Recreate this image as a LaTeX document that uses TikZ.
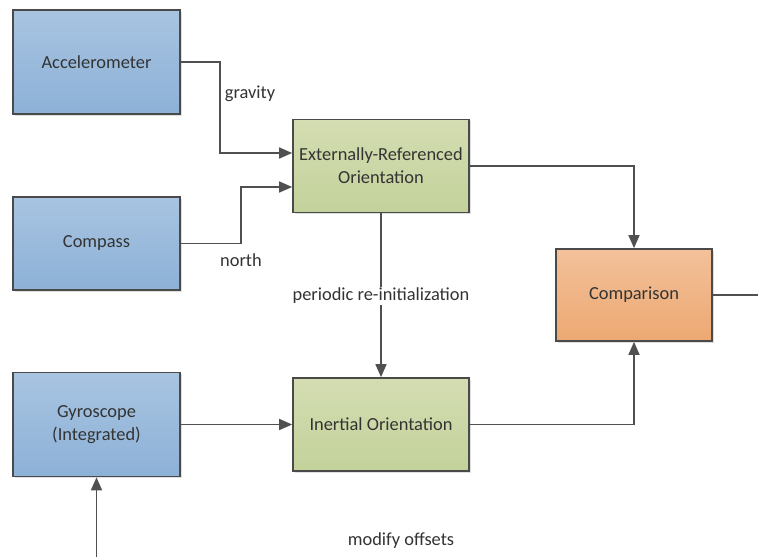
\documentclass[tikz,border=0pt]{standalone}
\usepackage{fontspec}
\setmainfont{Carlito}
\usetikzlibrary{arrows.meta,shadows}
\definecolor{edge}{HTML}{4A4A4A}
\definecolor{wire}{HTML}{505050}
\definecolor{ink}{HTML}{333333}
\begin{document}
\begin{tikzpicture}[x=1pt,y=-1pt,
  font=\fontsize{18.4}{23}\selectfont,
  every node/.style={text=ink},
  block/.style={draw=edge,line width=1.7pt,minimum width=#1,align=center,inner sep=0pt,
    drop shadow={shadow xshift=1.5pt,shadow yshift=-1.5pt,opacity=0.25}},
  sensor/.style={block=167pt,minimum height=104pt,top color=sensorTop,bottom color=sensorBot},
  orient/.style={block=176pt,minimum height=93pt,top color=orientTop,bottom color=orientBot},
  compare/.style={block=156pt,minimum height=92pt,top color=cmpTop,bottom color=cmpBot},
  link/.style={draw=wire,line width=1.6pt,-{Triangle[length=13pt,width=11pt]}},
  plain/.style={draw=wire,line width=1.6pt},
  tag/.style={inner sep=1pt}]
\definecolor{sensorTop}{HTML}{A8C4E1}
\definecolor{sensorBot}{HTML}{8DB1D7}
\definecolor{orientTop}{HTML}{D4DDB2}
\definecolor{orientBot}{HTML}{C3D29B}
\definecolor{cmpTop}{HTML}{F3C19A}
\definecolor{cmpBot}{HTML}{ECA872}
\useasboundingbox[fill=white] (0,0) rectangle (758,557);

% sensor inputs
\node[sensor] (acc)  at (96.5,62)  {Accelerometer};
\node[sensor, minimum height=93pt] (comp) at (96.5,243.5) {Compass};
\node[sensor] (gyro) at (96.5,424.5) {Gyroscope\\(Integrated)};

% orientation estimates
\node[orient] (ext) at (381,166) {Externally-Referenced\\Orientation};
\node[orient] (ine) at (381,424.5) {Inertial Orientation};

% comparison
\node[compare] (cmp) at (634,295) {Comparison};

% free ends
\coordinate (out) at (758,295);
\coordinate (feed) at (96.5,557);

% connectors
\draw[link] (acc.east) -- (220,62) |- (ext.west |- 0,153);
\draw[link] (comp.east) -- (241,243.5) |- (ext.west |- 0,187);
\draw[link] (ext.south) -- (ine.north);
\draw[link] (ext.east) -| (cmp.north);
\draw[link] (ine.east) -| (cmp.south);
\draw[link] (gyro.east) -- (ine.west);
\draw[link] (feed) -- (gyro.south);
\draw[plain] (cmp.east) -- (out);

% labels
\node[tag] (lg) at (250,94) {gravity};
\node[tag] (ln) at (241,260) {north};
\node[tag, fill=white] (lp) at (381,296) {periodic re-initialization};
\node[tag] (lm) at (401,541) {modify offsets};
\end{tikzpicture}
\end{document}
